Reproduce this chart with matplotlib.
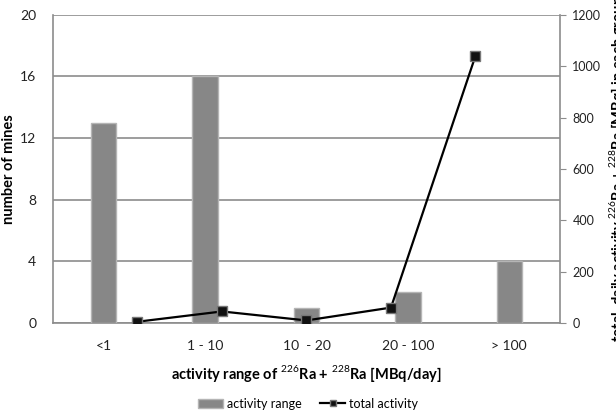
import matplotlib.pyplot as plt
from matplotlib.lines import Line2D
from matplotlib.patches import Patch

plt.rcParams['font.family'] = ['Lato', 'DejaVu Sans']
plt.rcParams['mathtext.fontset'] = 'custom'
plt.rcParams['mathtext.rm'] = 'Lato'

# data
categories = ['<1', '1 - 10', '10  - 20', '20 - 100', '> 100']
mines = [13, 16, 1, 2, 4]
total_activity = [5, 45, 10, 60, 1040]
line_pos = [1, 2, 3, 4, 5]   # secondary category axis runs 0..6

fig = plt.figure(figsize=(6.16, 4.12), dpi=100)
rect = [0.086, 0.216, 0.823, 0.748]
ax = fig.add_axes(rect)

x = list(range(len(categories)))
ax.bar(x, mines, width=0.25, color='#878787', edgecolor='#b5b5b5', linewidth=1, zorder=3)
ax.set_xlim(-0.5, len(categories) - 0.5)
ax.set_ylim(0, 20)
ax.set_yticks([0, 4, 8, 12, 16, 20])
ax.set_xticks(x)
ax.set_xticklabels(categories)
ax.yaxis.grid(True, color='#8c8c8c', linewidth=1.2, zorder=0)
ax.set_axisbelow(True)
ax.tick_params(axis='both', length=0, labelsize=10, colors='#222222')
ax.tick_params(axis='y', pad=12)
ax.tick_params(axis='x', pad=12)
for s in ['left', 'bottom']:
    ax.spines[s].set_color('#8c8c8c')
    ax.spines[s].set_linewidth(1.2)
for s in ['top', 'right']:
    ax.spines[s].set_visible(False)
ax.set_ylabel('number of mines', fontsize=10.5, fontweight='bold', labelpad=3)
ax.set_xlabel(r'activity range of $^{226}$Ra + $^{228}$Ra [MBq/day]',
              fontsize=10.5, fontweight='bold', labelpad=8)

# secondary axes for the line
ax2 = fig.add_axes(rect, facecolor='none')
ax2.plot(line_pos, total_activity, color='black', linewidth=1.6,
         marker='s', markersize=6.5, markerfacecolor='#111111',
         markeredgecolor='#777777', markeredgewidth=1, zorder=5)
ax2.set_xlim(0, 6)
ax2.set_ylim(0, 1200)
ax2.set_yticks(range(0, 1201, 200))
ax2.xaxis.set_visible(False)
ax2.yaxis.tick_right()
ax2.yaxis.set_label_position('right')
ax2.tick_params(axis='y', length=4, color='#8c8c8c', labelsize=9, colors='#222222', pad=5)
ax2.tick_params(axis='y', color='#8c8c8c')
for s in ['left', 'bottom', 'top']:
    ax2.spines[s].set_visible(False)
ax2.spines['right'].set_color('#8c8c8c')
ax2.spines['right'].set_linewidth(1.2)
ax2.set_ylabel(r'total  daily activity $^{226}$Ra + $^{228}$Ra [MBq] in each group',
               fontsize=10.5, fontweight='bold', labelpad=4)

handles = [Patch(facecolor='#878787', edgecolor='#b5b5b5', label='activity range'),
           Line2D([], [], color='black', linewidth=1.6, marker='s', markersize=5,
                  markerfacecolor='#111111', markeredgecolor='#777777', label='total activity')]
fig.legend(handles=handles, loc='center', bbox_to_anchor=(0.5, 0.02), ncol=2,
           frameon=False, fontsize=9, handlelength=2.0, columnspacing=1.5,
           handletextpad=0.3)

plt.savefig('out.png', dpi=100)
